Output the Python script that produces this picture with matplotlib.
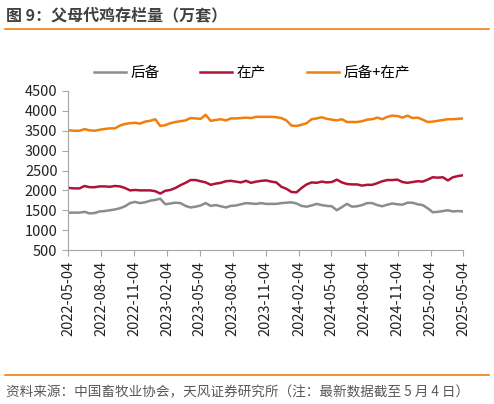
import matplotlib
matplotlib.use('Agg')
import matplotlib.pyplot as plt
import matplotlib.dates as mdates
import pandas as pd

plt.rcParams['font.family'] = ['Noto Sans CJK SC', 'DejaVu Sans']

# biweekly readings, last point 2025-05-04
dates = pd.date_range(end='2025-05-04', periods=79, freq='14D')

houbei = [1440, 1440, 1440, 1460, 1420, 1430, 1470, 1480, 1500, 1520,
          1550, 1600, 1680, 1710, 1680, 1700, 1740, 1760, 1790, 1650,
          1670, 1690, 1680, 1610, 1570, 1590, 1620, 1680, 1610, 1630,
          1600, 1570, 1610, 1620, 1650, 1680, 1670, 1660, 1680, 1660,
          1660, 1660, 1680, 1690, 1700, 1670, 1610, 1590, 1620, 1660,
          1630, 1610, 1600, 1500, 1580, 1660, 1590, 1600, 1630, 1680,
          1680, 1630, 1600, 1640, 1670, 1650, 1640, 1690, 1690, 1650,
          1630, 1550, 1450, 1460, 1480, 1500, 1470, 1480, 1470]

zaichan = [2060, 2050, 2050, 2110, 2080, 2080, 2100, 2100, 2090, 2110,
           2100, 2060, 2000, 2010, 2000, 2000, 2000, 1980, 1920, 1990,
           2010, 2060, 2130, 2190, 2260, 2260, 2230, 2200, 2140, 2170,
           2190, 2230, 2240, 2220, 2200, 2240, 2190, 2220, 2240, 2250,
           2220, 2200, 2090, 2040, 1960, 1950, 2060, 2150, 2200, 2190,
           2220, 2200, 2210, 2270, 2200, 2160, 2150, 2150, 2120, 2140,
           2140, 2180, 2230, 2260, 2260, 2270, 2210, 2190, 2210, 2230,
           2220, 2270, 2330, 2320, 2330, 2250, 2330, 2360, 2380]

total = [3510, 3500, 3500, 3540, 3510, 3500, 3525, 3545, 3560, 3560,
         3630, 3670, 3690, 3700, 3680, 3730, 3750, 3790, 3620, 3640,
         3690, 3720, 3740, 3760, 3820, 3810, 3800, 3900, 3750, 3770,
         3790, 3760, 3810, 3810, 3820, 3830, 3820, 3850, 3850, 3850,
         3850, 3840, 3820, 3760, 3630, 3620, 3650, 3690, 3790, 3810,
         3840, 3800, 3780, 3760, 3790, 3720, 3720, 3720, 3740, 3780,
         3790, 3830, 3790, 3850, 3880, 3870, 3830, 3880, 3820, 3830,
         3780, 3720, 3730, 3750, 3770, 3790, 3790, 3800, 3810]

labels = ['后备', '在产', '后备+在产']
colors = ['#8C8C8C', '#B0133A', '#F07F0E']

fig = plt.figure(figsize=(4.94, 4.04), dpi=100)
ax = fig.add_axes([68 / 494, 1 - 250 / 404, 395 / 494, 159 / 404])

for y, lab, c in zip([houbei, zaichan, total], labels, colors):
    ax.plot(dates, y, color=c, lw=1.8, label=lab)

ax.set_ylim(500, 4500)
ax.set_yticks(range(500, 4501, 500))
ax.set_xlim(pd.Timestamp('2022-05-04'), pd.Timestamp('2025-05-04'))
ticks = pd.date_range('2022-05-04', periods=13, freq=pd.DateOffset(months=3))
ax.set_xticks(ticks)
ax.xaxis.set_major_formatter(mdates.DateFormatter('%Y-%m-%d'))
plt.setp(ax.get_xticklabels(), rotation=90)

for s in ['top', 'right']:
    ax.spines[s].set_visible(False)
for s in ['left', 'bottom']:
    ax.spines[s].set_color('#A6A6A6')
ax.tick_params(colors='#A6A6A6', labelcolor='#222222', labelsize=10.5,
               length=4, direction='out')

ax.legend(loc='lower left', bbox_to_anchor=(0.05, 1.03), ncol=3, frameon=False,
          fontsize=10.5, handlelength=2.2, handletextpad=0.3, columnspacing=2.8,
          borderaxespad=0)

fig.text(0.012, 0.962, '图 9：父母代鸡存栏量（万套）', fontsize=11.5, color='#404040',
         va='center', fontweight='bold')
fig.add_artist(plt.Line2D([0.01, 0.99], [0.928, 0.928], color='#F07F0E', lw=1.2))
fig.add_artist(plt.Line2D([0.01, 0.99], [0.073, 0.073], color='#F07F0E', lw=1.2))
fig.text(0.012, 0.028, '资料来源：中国畜牧业协会，天风证券研究所（注：最新数据截至 5 月 4 日）',
         fontsize=9.8, color='#595959', va='center')

fig.savefig('out.png', dpi=100)
